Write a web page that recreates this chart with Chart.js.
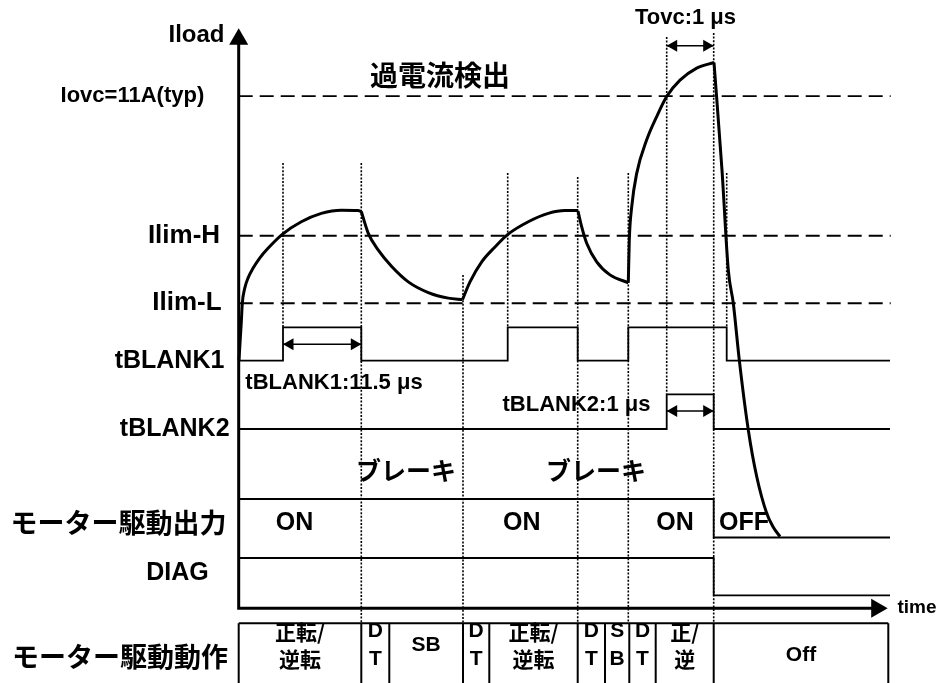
<!DOCTYPE html>
<html>
<head>
<meta charset="utf-8">
<script src="https://cdn.jsdelivr.net/npm/chart.js@4.4.1/dist/chart.umd.min.js"></script>
<style>
html, body { margin: 0; padding: 0; background: #fff; }
#wrap { width: 940px; height: 683px; position: relative; }
</style>
</head>
<body>
<div id="wrap"><canvas id="timing"></canvas></div>
<script>
// 電流しきい値 (A)
const iovcA = 11;
const ilimHA = 8.0;
const ilimLA = 6.55;

// Iload 波形 [時間, 電流A] (時間は任意単位)
const rise1 = [[0.03,5.33],[0.16,5.80],[0.26,6.15],[0.36,6.55],[0.60,6.87],[0.93,7.09],[1.43,7.30],[2.10,7.52],[2.93,7.73],[4.36,8.03],[6.26,8.30],[8.26,8.48],[10.26,8.55],[11.93,8.54],[12.26,8.52]];
const fall1 = [[12.26,8.52],[12.96,8.05],[13.96,7.69],[15.30,7.34],[16.96,7.01],[18.96,6.78],[20.96,6.66],[22.38,6.63]];
const rise2 = [[22.38,6.63],[23.13,7.01],[24.30,7.44],[25.63,7.76],[26.86,8.02],[28.96,8.30],[30.96,8.48],[32.63,8.54],[33.93,8.54]];
const fall2 = [[33.93,8.53],[34.30,8.19],[34.80,7.84],[35.80,7.44],[37.13,7.16],[38.96,6.99]];
const rise3 = [[38.96,6.99],[39.06,7.91],[39.30,8.62],[39.80,9.34],[40.80,10.06],[41.80,10.56],[42.80,10.99],[44.13,11.34],[45.80,11.60],[47.53,11.72]];
const fall3 = [[47.53,11.72],[48.33,9.41],[48.96,7.26],[49.46,6.55],[50.06,5.33],[50.96,3.83],[51.80,2.83],[52.80,2.04],[53.43,1.75],[54.13,1.54]];

// デジタル信号 (エッジ時刻とレベル)
const blank1Edges = [0, 4.43, 12.26, 26.90, 33.90, 38.96, 48.80, 65.13];
const blank1Level = [0, 1, 0, 1, 0, 1, 0, 0];
const blank2Edges = [0, 42.80, 47.50, 65.13];
const blank2Level = [0, 1, 0, 0];
const motorEdges = [0, 47.50, 65.13];
const motorLevel = [1, 0, 0];
const diagEdges = [0, 47.50, 65.13];
const diagLevel = [1, 0, 0];

// モーター駆動動作の区間
const phaseEdges = [0, 12.26, 15.06, 22.43, 25.06, 33.90, 36.63, 39.06, 41.70, 47.50, 64.96];
const phaseNames = ['正転/\n逆転', 'D\nT', 'SB', 'D\nT', '正転/\n逆転', 'D\nT', 'S\nB', 'D\nT', '正/\n逆', 'Off'];

// 補助線の時刻
const markerTimes = [4.43, 12.26, 22.43, 26.90, 33.90, 38.96, 42.80, 47.50, 48.80];
// 幅表示 (開始, 終了)
const spanStart = [4.43, 42.80, 42.80];
const spanEnd = [12.26, 47.50, 47.50];

// ---- レイアウト (図の単位: 10px) ----
const rowBlank1 = { lo: 24.76, hi: 28.10 };
const rowBlank2 = { lo: 17.93, hi: 21.40 };
const rowMotor = { lo: 7.08, hi: 10.93 };
const rowDiag = { lo: 1.30, hi: 5.03 };
const markerTop = [44.53, 44.53, 33.33, 43.53, 43.13, 43.53, 57.13, 57.53, 43.53];
const markerBottom = [28.10, -1.50, -1.50, 28.10, -1.50, -1.50, 21.40, -1.50, 28.10];
const spanY = [26.40, 19.73, 56.26];
const tableTop = -1.50;
const axisEnd = 65.2;

function pts(arr) { return arr.map(p => ({ x: p[0], y: p[1] })); }

function lineSet(data, extra) {
    return Object.assign({
        data: data, showLine: true, borderColor: '#000', borderWidth: 2,
        pointRadius: 0, fill: false, tension: 0, yAxisID: 'y'
    }, extra || {});
}

function stepSet(edges, levels, row) {
    return lineSet(edges.map((t, i) => ({ x: t, y: row.lo + levels[i] * (row.hi - row.lo) })),
        { stepped: true, borderWidth: 1.8 });
}

var datasets = [];

// しきい値の破線
[iovcA, ilimHA, ilimLA].forEach(function (v) {
    datasets.push(lineSet([{ x: 0, y: v }, { x: axisEnd, y: v }],
        { yAxisID: 'yI', borderDash: [14, 7], borderWidth: 1.8 }));
});

// 補助線 (点線)
markerTimes.forEach(function (t, i) {
    datasets.push(lineSet([{ x: t, y: markerTop[i] }, { x: t, y: markerBottom[i] }],
        { borderDash: [2, 1.6], borderWidth: 1.6 }));
});

// Iload 波形
[rise1, fall1, rise2, fall2, rise3, fall3].forEach(function (c) {
    datasets.push(lineSet(pts(c), { yAxisID: 'yI', borderWidth: 3, cubicInterpolationMode: 'monotone' }));
});

// 信号
datasets.push(stepSet(blank1Edges, blank1Level, rowBlank1));
datasets.push(stepSet(blank2Edges, blank2Level, rowBlank2));
datasets.push(stepSet(motorEdges, motorLevel, rowMotor));
datasets.push(stepSet(diagEdges, diagLevel, rowDiag));

// 幅の矢印
spanStart.forEach(function (s, i) {
    datasets.push(lineSet([{ x: s, y: spanY[i] }, { x: spanEnd[i], y: spanY[i] }], { borderWidth: 1.6 }));
    datasets.push({
        data: [{ x: s + 0.7, y: spanY[i] }, { x: spanEnd[i] - 0.7, y: spanY[i] }],
        showLine: false, pointStyle: 'triangle', pointRadius: 7, pointRotation: [270, 90],
        pointBackgroundColor: '#000', pointBorderWidth: 0, yAxisID: 'y'
    });
});

// 軸
datasets.push(lineSet([{ x: 0, y: 56.9 }, { x: 0, y: 0 }, { x: 63.8, y: 0 }], { borderWidth: 3 }));
datasets.push({
    data: [{ x: 0, y: 56.9 }, { x: 63.8, y: 0 }],
    showLine: false, pointStyle: 'triangle', pointRadius: 11, pointRotation: [0, 90],
    pointBackgroundColor: '#000', pointBorderWidth: 0, yAxisID: 'y'
});

// 動作テーブル
datasets.push(lineSet([{ x: 0, y: tableTop }, { x: phaseEdges[phaseEdges.length - 1], y: tableTop }], { borderWidth: 2 }));
phaseEdges.forEach(function (t) {
    datasets.push(lineSet([{ x: t, y: tableTop }, { x: t, y: -9 }], { borderWidth: 2 }));
});

var LAT = '"Liberation Sans", Arial, "Noto Sans CJK JP", sans-serif';
var JP = '"Noto Sans CJK JP", sans-serif';

// テキスト (位置は図の単位)
var labels = [
    { t: 'Iload', x: -4.22, y: 57.33, s: 24, f: LAT },
    { t: 'Iovc=11A(typ)', x: -10.63, yi: iovcA, s: 22, f: LAT },
    { t: 'Ilim-H', x: -5.47, yi: ilimHA, s: 26, f: LAT },
    { t: 'Ilim-L', x: -5.17, yi: ilimLA, s: 26, f: LAT },
    { t: 'tBLANK1', x: -6.92, y: 24.73, s: 25, f: LAT },
    { t: 'tBLANK2', x: -6.40, y: 17.93, s: 25, f: LAT },
    { t: 'モーター駆動出力', x: -12.02, y: 8.53, s: 27, f: JP },
    { t: 'DIAG', x: -6.12, y: 3.53, s: 25, f: LAT },
    { t: 'モーター駆動動作', x: -11.87, y: -4.87, s: 27, f: JP },
    { t: '過電流検出', x: 20.13, y: 53.33, s: 28, f: JP },
    { t: 'Tovc:1 μs', x: 44.68, y: 59.03, s: 22, f: LAT },
    { t: 'tBLANK1:11.5 μs', x: 9.53, y: 22.53, s: 22, f: LAT },
    { t: 'tBLANK2:1 μs', x: 33.78, y: 20.33, s: 22, f: LAT },
    { t: 'ブレーキ', x: 16.73, y: 13.80, s: 25, f: JP },
    { t: 'ブレーキ', x: 35.73, y: 13.80, s: 25, f: JP },
    { t: 'ON', x: 5.58, y: 8.53, s: 25, f: LAT },
    { t: 'ON', x: 28.30, y: 8.53, s: 25, f: LAT },
    { t: 'ON', x: 43.63, y: 8.53, s: 25, f: LAT },
    { t: 'OFF', x: 48.03, y: 8.53, s: 25, f: LAT, a: 'left' },
    { t: 'time', x: 67.83, y: 0.03, s: 19, f: LAT }
];

const textPlugin = {
    id: 'diagramText',
    afterDatasetsDraw: function (chart) {
        var ctx = chart.ctx;
        var xs = chart.scales.x, ys = chart.scales.y, yi = chart.scales.yI;
        ctx.save();
        ctx.fillStyle = '#000';
        ctx.textBaseline = 'middle';
        labels.forEach(function (l) {
            ctx.font = 'bold ' + l.s + 'px ' + l.f;
            ctx.textAlign = l.a || 'center';
            var py = l.yi !== undefined ? yi.getPixelForValue(l.yi) : ys.getPixelForValue(l.y);
            ctx.fillText(l.t, xs.getPixelForValue(l.x), py);
        });
        // テーブルのセル
        ctx.textAlign = 'center';
        phaseNames.forEach(function (name, i) {
            var cx = xs.getPixelForValue((phaseEdges[i] + phaseEdges[i + 1]) / 2);
            var lines = name.split('\n');
            var isLat = /^[A-Za-z\n]+$/.test(name);
            ctx.font = 'bold 21px ' + (isLat ? LAT : JP);
            if (lines.length === 2) {
                ctx.fillText(lines[0], cx, ys.getPixelForValue(-2.34));
                ctx.fillText(lines[1], cx, ys.getPixelForValue(-5.07));
            } else {
                ctx.fillText(name, cx, ys.getPixelForValue(name === 'Off' ? -4.67 : -3.67));
            }
        });
        ctx.restore();
    }
};

new Chart(document.getElementById('timing'), {
    type: 'scatter',
    data: { datasets: datasets },
    options: {
        responsive: true,
        maintainAspectRatio: false,
        animation: false,
        events: [],
        layout: { padding: 0, autoPadding: false },
        plugins: { legend: { display: false }, tooltip: { enabled: false } },
        scales: {
            x: { type: 'linear', display: false, min: -23.87, max: 70.13 },
            y: { type: 'linear', display: false, min: -7.47, max: 60.83 },
            yI: { type: 'linear', display: false, min: -1.604, max: 13.062 }
        }
    },
    plugins: [textPlugin]
});
</script>
</body>
</html>
